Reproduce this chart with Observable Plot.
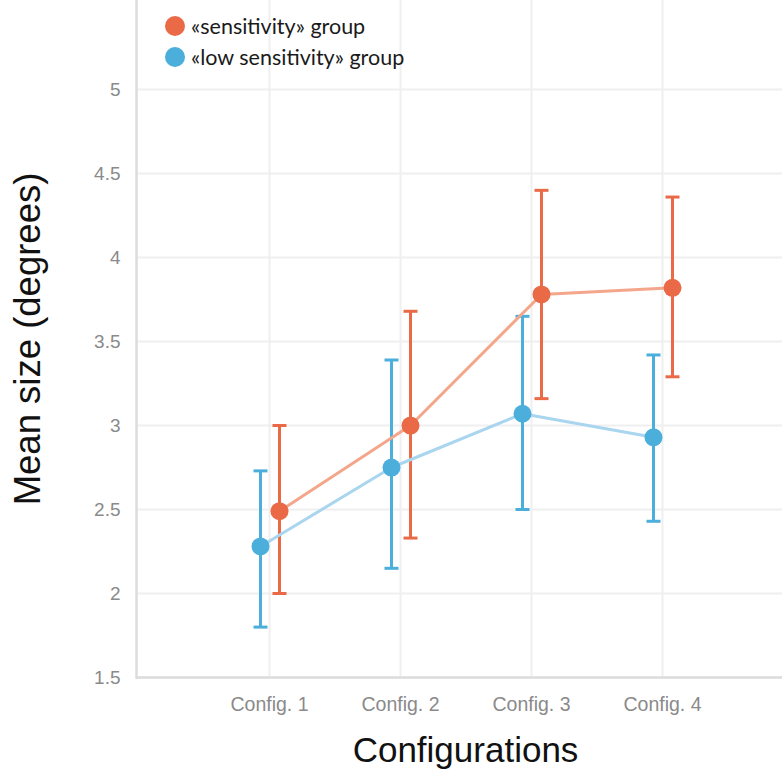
<!DOCTYPE html>
<html>
<head>
<meta charset="utf-8">
<script src="https://cdn.jsdelivr.net/npm/d3@7"></script>
<script src="https://cdn.jsdelivr.net/npm/@observablehq/plot@0.6"></script>
<style>
  html, body { margin: 0; padding: 0; background: #fff; }
  #wrap { position: relative; width: 782px; height: 775px; overflow: hidden; }
  #legend { position: absolute; left: 164px; top: 10px; font-family: Lato, "Open Sans", sans-serif; font-size: 21.5px; color: #1a1a1a; }
  #legend .row { display: flex; align-items: center; height: 31px; }
  #legend svg { margin-right: 5px; }
</style>
</head>
<body>
<div id="wrap"><div id="legend"></div></div>
<script>
// ---- data ----
const configs = ["Config. 1", "Config. 2", "Config. 3", "Config. 4"];
const groups = ["«sensitivity» group", "«low sensitivity» group"];
const sensMean = [2.49, 3.00, 3.78, 3.82];
const sensLow  = [2.00, 2.33, 3.16, 3.29];
const sensHigh = [3.00, 3.68, 4.40, 4.36];
const lowMean  = [2.28, 2.75, 3.07, 2.93];
const lowLow   = [1.80, 2.15, 2.50, 2.43];
const lowHigh  = [2.73, 3.39, 3.65, 3.42];
const yTicks = [1.5, 2, 2.5, 3, 3.5, 4, 4.5, 5];
const xTitle = "Configurations";
const yTitle = "Mean size (degrees)";

// ---- styles ----
const colors = ["#EA6A48", "#4BAEDB"];
const lineColors = ["#F4A68B", "#A9D5EF"];
const offsets = [10, -9];

const sens = configs.map((c, i) => ({config: c, mean: sensMean[i], low: sensLow[i], high: sensHigh[i]}));
const lowS = configs.map((c, i) => ({config: c, mean: lowMean[i], low: lowLow[i], high: lowHigh[i]}));
const series = [sens, lowS];

const capSymbol = {
  draw(ctx, size) {
    const r = Math.sqrt(size / Math.PI);
    ctx.moveTo(-r, 0);
    ctx.lineTo(r, 0);
  }
};

const marks = [
  Plot.gridY(yTicks, {stroke: "#efefef", strokeOpacity: 1, strokeWidth: 2}),
  Plot.gridX(configs, {stroke: "#efefef", strokeOpacity: 1, strokeWidth: 2}),
  Plot.ruleY([yTicks[0]], {stroke: "#dcdcdc", strokeWidth: 2.5}),
  Plot.frame({anchor: "left", stroke: "#dcdcdc", strokeWidth: 2.5}),
  Plot.axisY(yTicks, {tickSize: 0, tickPadding: 16, fontSize: 19, fill: "#8a8a8a", label: null, tickFormat: d => String(d)}),
  Plot.axisX(configs, {tickSize: 0, tickPadding: 20, fontSize: 19.5, fill: "#8a8a8a", label: null}),
  Plot.text([xTitle], {frameAnchor: "bottom", dy: 84, dx: 6, fontSize: 35, fill: "#111"}),
  Plot.text([yTitle], {frameAnchor: "left", textAnchor: "middle", rotate: -90, dx: -108, fontSize: 36.5, fill: "#111"})
];

series.forEach((d, k) => {
  marks.push(
    Plot.ruleX(d, {x: "config", y1: "low", y2: "high", stroke: colors[k], strokeWidth: 3, dx: offsets[k]}),
    Plot.dot(d, {x: "config", y: "low", symbol: capSymbol, r: 7, stroke: colors[k], strokeWidth: 3, fill: "none", dx: offsets[k]}),
    Plot.dot(d, {x: "config", y: "high", symbol: capSymbol, r: 7, stroke: colors[k], strokeWidth: 3, fill: "none", dx: offsets[k]})
  );
});
series.forEach((d, k) => {
  marks.push(
    Plot.line(d, {x: "config", y: "mean", stroke: lineColors[k], strokeWidth: 3, dx: offsets[k]})
  );
});
series.forEach((d, k) => {
  marks.push(
    Plot.dot(d, {x: "config", y: "mean", r: 9, fill: colors[k], stroke: "none", dx: offsets[k]})
  );
});

const chart = Plot.plot({
  width: 782,
  height: 775,
  marginLeft: 136,
  marginRight: 0,
  marginTop: 0,
  marginBottom: 98,
  style: {fontFamily: "'Liberation Sans', Arial, sans-serif", background: "#fff", overflow: "visible"},
  x: {type: "point", domain: configs, range: [136, 794], padding: 1},
  y: {domain: [1.5, 5.53], range: [677, 0]},
  marks
});
document.getElementById("wrap").prepend(chart);

// legend
const legend = document.getElementById("legend");
groups.forEach((g, k) => {
  const row = document.createElement("div");
  row.className = "row";
  row.innerHTML = `<svg width="22" height="22"><circle cx="11" cy="11" r="10" fill="${colors[k]}"></circle></svg><span>${g}</span>`;
  legend.appendChild(row);
});
</script>
</body>
</html>
